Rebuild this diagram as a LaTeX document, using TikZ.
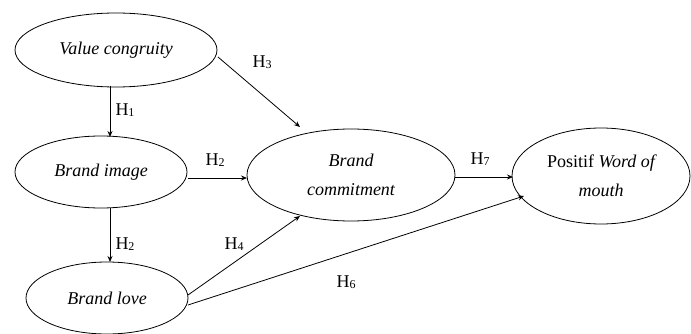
\documentclass[tikz,border=0pt]{standalone}
\usepackage{fontspec}
\setmainfont{Liberation Serif}
\usetikzlibrary{shapes.geometric,arrows.meta}
\tikzset{
  construct/.style={draw, ellipse, inner sep=0pt, align=center, line width=0.8pt, font=\fontsize{18}{29}\selectfont\itshape},
  link/.style={-{Stealth[length=6pt,width=5pt]}, line width=0.8pt},
  hyp/.style={font=\fontsize{18}{20}\selectfont}
}
\newcommand{\hy}[1]{H\raisebox{-1.5pt}{\fontsize{12}{12}\selectfont #1}}
\begin{document}
\begin{tikzpicture}[x=1pt,y=-1pt]
\useasboundingbox (0,0) rectangle (691,334);
\node[construct, minimum width=202pt, minimum height=74pt] (vc) at (116,50) {Value congruity};
\node[construct, minimum width=172pt, minimum height=72pt] (bi) at (101,172) {Brand image};
\node[construct, minimum width=162pt, minimum height=72pt] (bl) at (107,298) {Brand love};
\node[construct, minimum width=208pt, minimum height=92pt] (bc) at (351,175) {Brand\\commitment};
\node[construct, minimum width=178pt, minimum height=96pt] (pw) at (601,176) {\upshape Positif \itshape Word of\\mouth};
\coordinate (vcb) at (110,86);
\coordinate (bit) at (110,137);
\coordinate (bib) at (110,208);
\coordinate (blt) at (110,262);
\draw[link] (vcb) -- (bit);
\draw[link] (bib) -- (blt);
\coordinate (vcr) at (218,57);
\coordinate (bctl) at (300,127);
\draw[link] (vcr) -- (bctl);
\coordinate (bir) at (188,178);
\coordinate (bcl) at (247,178);
\draw[link] (bir) -- (bcl);
\coordinate (blr1) at (188,295);
\coordinate (bcbl) at (300,216);
\draw[link] (blr1) -- (bcbl);
\coordinate (blr2) at (188,305);
\coordinate (pwbl) at (524,196);
\draw[link] (blr2) -- (pwbl);
\coordinate (bcr) at (455,177);
\coordinate (pwl) at (513,177);
\draw[link] (bcr) -- (pwl);
\node[hyp] (h3) at (262,62) {\hy{3}};
\node[hyp] (h1) at (125,110) {\hy{1}};
\node[hyp] (h2a) at (215,160) {\hy{2}};
\node[hyp] (h2b) at (125,244) {\hy{2}};
\node[hyp] (h4) at (234,244) {\hy{4}};
\node[hyp] (h6) at (346,282) {\hy{6}};
\node[hyp] (h7) at (480,159) {\hy{7}};
\end{tikzpicture}
\end{document}
